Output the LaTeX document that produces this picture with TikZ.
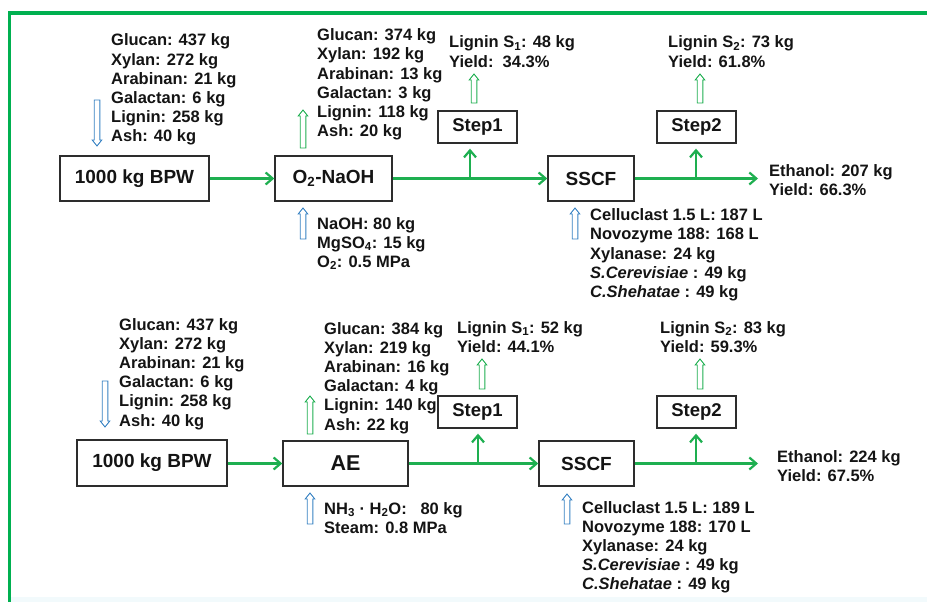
\documentclass[tikz,border=0pt]{standalone}
\usepackage{fontspec}
\setmainfont{Liberation Sans}
\usetikzlibrary{arrows.meta}
\definecolor{gline}{RGB}{0,176,80}
\definecolor{garrow}{RGB}{30,175,80}
\definecolor{barrow}{RGB}{55,130,195}
\definecolor{boxline}{RGB}{45,45,45}
\definecolor{txtc}{RGB}{20,20,20}
\definecolor{bandc}{RGB}{242,250,252}
\newcommand\stack[1]{\begin{tabular}[t]{@{}l@{}}#1\end{tabular}}
\newcommand\harrow[4]{%
  \pgfmathsetmacro\hadir{sign(#4-#3)}%
  \pgfmathsetmacro\hb{#4-6*\hadir}%
  \draw[#1, line width=0.9pt, fill=white, line join=miter]
    (#2-2.8,#3) -- (#2-2.8,\hb) -- (#2-4.8,\hb) -- (#2,#4) -- (#2+4.8,\hb) -- (#2+2.8,\hb) -- (#2+2.8,#3) -- cycle;}
\begin{document}
\begin{tikzpicture}[x=1pt,y=-1pt,
  box/.style={draw=boxline, line width=1.4pt, inner sep=0pt, text=txtc,
              font=\fontsize{19}{22}\selectfont\bfseries},
  stepbox/.style={box, minimum width=79pt, minimum height=32pt,
              font=\fontsize{18.5}{22}\selectfont\bfseries},
  txt/.style={anchor=base west, inner sep=0pt, text=txtc,
              font=\fontsize{16.5}{19.2}\selectfont\bfseries},
  flow/.style={garrow, line width=2.2pt, -{Straight Barb[length=7pt,width=12pt]}},
  branch/.style={flow, shorten >=5pt}]
\useasboundingbox (0,0) rectangle (927,602);
\fill[bandc] (10,597) rectangle (927,602);
\draw[gline, line width=3.8pt] (9.5,602) -- (9.5,13) -- (927,13);

% ---------------- top row ----------------
\node[box, minimum width=149pt, minimum height=45pt] (bpwA) at (134.5,178.5) {1000 kg BPW};
\node[box, minimum width=117pt, minimum height=45pt] (naoh) at (333.5,178.5) {O\textsubscript{2}-NaOH};
\node[stepbox] (stepAa) at (477.5,127) {Step1};
\node[box, minimum width=86pt, minimum height=45pt] (sscfA) at (591,178.5) {SSCF};
\node[stepbox] (stepAb) at (696.5,127) {Step2};
\coordinate (jAa) at (470,178.5);
\coordinate (jAb) at (696,178.5);
\coordinate (endA) at (758,178.5);

\draw[flow] (bpwA) -- (naoh);
\draw[flow] (naoh) -- (sscfA);
\draw[flow] (sscfA) -- (endA);
\draw[branch] (jAa) -- (jAa |- stepAa.south);
\draw[branch] (jAb) -- (jAb |- stepAb.south);

\node[txt] (compA) at (111,46) {\stack{Glucan: 437 kg\\Xylan: 272 kg\\Arabinan: 21 kg\\Galactan: 6 kg\\Lignin: 258 kg\\Ash: 40 kg}};
\node[txt] (outA) at (317,40.7) {\stack{Glucan: 374 kg\\Xylan: 192 kg\\Arabinan: 13 kg\\Galactan: 3 kg\\Lignin: 118 kg\\Ash: 20 kg}};
\node[txt] (inA) at (317,229) {\stack{NaOH: 80 kg\\MgSO\textsubscript{4}: 15 kg\\O\textsubscript{2}: 0.5 MPa}};
\node[txt] (ligAa) at (449,48) {\stack{Lignin S\textsubscript{1}: 48 kg\\Yield:\ \ 34.3\%}};
\node[txt] (ligAb) at (668,48) {\stack{Lignin S\textsubscript{2}: 73 kg\\Yield: 61.8\%}};
\node[txt] (enzA) at (590,220.7) {\stack{Celluclast 1.5 L: 187 L\\Novozyme 188: 168 L\\Xylanase: 24 kg\\\textit{S.Cerevisiae} : 49 kg\\\textit{C.Shehatae} : 49 kg}};
\node[txt] (ethA) at (769,176) {\stack{Ethanol: 207 kg\\Yield: 66.3\%}};

\harrow{barrow}{97}{100}{146}
\harrow{garrow}{303}{148}{110}
\harrow{barrow}{303}{239}{208}
\harrow{garrow}{474}{103}{74}
\harrow{garrow}{700}{103}{74}
\harrow{barrow}{575}{239}{208}

% ---------------- bottom row ----------------
\node[box, minimum width=150pt, minimum height=46pt] (bpwB) at (152,463) {1000 kg BPW};
\node[box, minimum width=125pt, minimum height=45pt, font=\fontsize{21.5}{24}\selectfont\bfseries] (ae) at (345.5,463.5) {AE};
\node[stepbox] (stepBa) at (477.5,412) {Step1};
\node[box, minimum width=95pt, minimum height=45pt] (sscfB) at (586.5,463.5) {SSCF};
\node[stepbox] (stepBb) at (696.5,412) {Step2};
\coordinate (jBa) at (478,463.5);
\coordinate (jBb) at (696,463.5);
\coordinate (endB) at (758,463.5);

\draw[flow] (bpwB.east |- ae) -- (ae);
\draw[flow] (ae) -- (sscfB);
\draw[flow] (sscfB) -- (endB);
\draw[branch] (jBa) -- (jBa |- stepBa.south);
\draw[branch] (jBb) -- (jBb |- stepBb.south);

\node[txt] (compB) at (119,330) {\stack{Glucan: 437 kg\\Xylan: 272 kg\\Arabinan: 21 kg\\Galactan: 6 kg\\Lignin: 258 kg\\Ash: 40 kg}};
\node[txt] (outB) at (324,334) {\stack{Glucan: 384 kg\\Xylan: 219 kg\\Arabinan: 16 kg\\Galactan: 4 kg\\Lignin: 140 kg\\Ash: 22 kg}};
\node[txt] (inB) at (324,514) {\stack{NH\textsubscript{3} · H\textsubscript{2}O:\ \ \ 80 kg\\Steam: 0.8 MPa}};
\node[txt] (ligBa) at (457,333) {\stack{Lignin S\textsubscript{1}: 52 kg\\Yield: 44.1\%}};
\node[txt] (ligBb) at (660,333) {\stack{Lignin S\textsubscript{2}: 83 kg\\Yield: 59.3\%}};
\node[txt] (enzB) at (582,513) {\stack{Celluclast 1.5 L: 189 L\\Novozyme 188: 170 L\\Xylanase: 24 kg\\\textit{S.Cerevisiae} : 49 kg\\\textit{C.Shehatae} : 49 kg}};
\node[txt] (ethB) at (777,462) {\stack{Ethanol: 224 kg\\Yield: 67.5\%}};

\harrow{barrow}{105}{381}{427}
\harrow{garrow}{310}{434}{396}
\harrow{barrow}{310}{524}{493}
\harrow{garrow}{482}{389}{359}
\harrow{garrow}{700}{389}{359}
\harrow{barrow}{567}{524}{494}
\end{tikzpicture}
\end{document}
